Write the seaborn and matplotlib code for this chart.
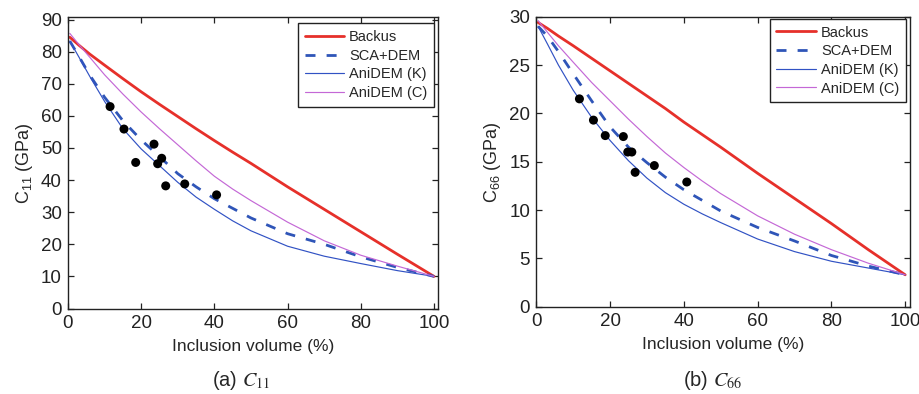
import matplotlib
matplotlib.use("Agg")
import matplotlib.pyplot as plt
import pandas as pd
import seaborn as sns

# ---------------- data ----------------
volume = [0.5, 3, 6, 10, 15, 20, 25, 30, 35, 40, 45, 50, 60, 70, 80, 90, 100]

c11_backus = [84.5, 82.0, 79.2, 75.8, 71.6, 67.5, 63.6, 59.8, 56.0, 52.3, 48.7, 45.2, 37.9, 30.9, 23.9, 16.9, 10.0]
c11_scadem = [83.3, 78.5, 72.6, 65.8, 58.5, 52.5, 47.3, 42.0, 37.9, 34.2, 31.2, 28.2, 23.3, 20.0, 16.1, 12.8, 10.0]
c11_anidem_k = [83.3, 78.3, 72.2, 64.5, 56.0, 49.7, 44.5, 39.3, 34.7, 30.9, 27.3, 24.2, 19.4, 16.3, 14.0, 11.8, 10.0]
c11_anidem_c = [85.7, 82.2, 78.2, 72.8, 66.8, 61.2, 56.0, 51.0, 46.0, 41.2, 37.2, 33.6, 26.9, 21.1, 16.6, 13.2, 10.0]

c66_backus = [29.4, 28.8, 28.0, 27.0, 25.7, 24.4, 23.1, 21.8, 20.5, 19.1, 17.8, 16.5, 13.8, 11.2, 8.6, 5.9, 3.3]
c66_scadem = [29.0, 28.0, 26.4, 24.1, 21.3, 18.6, 16.5, 14.9, 13.4, 12.1, 11.0, 9.9, 8.2, 6.8, 5.3, 4.2, 3.3]
c66_anidem_k = [29.0, 27.2, 25.0, 22.4, 19.6, 17.2, 15.1, 13.3, 11.8, 10.6, 9.6, 8.7, 7.0, 5.7, 4.7, 4.0, 3.3]
c66_anidem_c = [29.6, 28.4, 27.0, 25.3, 23.2, 21.3, 19.4, 17.6, 15.9, 14.4, 13.0, 11.7, 9.4, 7.5, 5.9, 4.5, 3.3]

pts_x_c11 = [11.5, 15.3, 18.5, 23.5, 24.5, 25.6, 26.7, 31.9, 40.6]
pts_c11 = [62.9, 55.9, 45.5, 51.2, 45.1, 46.8, 38.2, 38.8, 35.4]
pts_x_c66 = [11.7, 15.5, 18.7, 23.6, 24.8, 25.9, 26.8, 32.0, 40.8]
pts_c66 = [21.5, 19.3, 17.7, 17.6, 16.0, 16.0, 13.9, 14.6, 12.9]

models = ["Backus", "SCA+DEM", "AniDEM (K)", "AniDEM (C)"]
x_ticks = [0, 20, 40, 60, 80, 100]
c11_ticks = [0, 10, 20, 30, 40, 50, 60, 70, 80, 90]
c66_ticks = [0, 5, 10, 15, 20, 25, 30]

# ---------------- style ----------------
sns.set_theme(style="ticks")
plt.rcParams["font.family"] = ["Liberation Sans", "DejaVu Sans"]
plt.rcParams["mathtext.fontset"] = "stix"
plt.rcParams["axes.edgecolor"] = "#222222"
plt.rcParams["axes.linewidth"] = 1.0

styles = {
    "Backus": dict(color="#e6302a", lw=2.0, ls="-"),
    "SCA+DEM": dict(color="#2f55b8", lw=2.0, ls=(0, (3.6, 4.0))),
    "AniDEM (K)": dict(color="#3152c4", lw=0.85, ls="-"),
    "AniDEM (C)": dict(color="#c468d6", lw=0.85, ls="-"),
}

fig = plt.figure(figsize=(9.2, 3.94), dpi=100)
ax1 = fig.add_axes([0.0739, 0.217, 0.4022, 0.739])
ax2 = fig.add_axes([0.5829, 0.2216, 0.4062, 0.736])


def draw(ax, series, px, py, yticks, ylim, xlim, ylabel, leg_anchor):
    rows = []
    for m, vals in zip(models, series):
        for v, c in zip(volume, vals):
            rows.append({"volume": v, "value": c, "model": m})
    df = pd.DataFrame(rows)
    for m in models:
        st = styles[m]
        sns.lineplot(data=df[df["model"] == m], x="volume", y="value", ax=ax,
                     color=st["color"], linewidth=st["lw"], linestyle=st["ls"],
                     label=m, estimator=None, sort=False)
    sns.scatterplot(x=px, y=py, ax=ax, color="black", s=42, edgecolor="none",
                    legend=False, zorder=5)
    ax.set_xlim(*xlim)
    ax.set_ylim(*ylim)
    ax.set_xticks(x_ticks)
    ax.set_yticks(yticks)
    ax.tick_params(direction="in", length=4, width=0.9, top=True, right=True,
                   labelsize=13.5, pad=4.5, colors="#222222")
    ax.set_xlabel("Inclusion volume (%)", fontsize=12.5, labelpad=5)
    ax.set_ylabel(ylabel, fontsize=13, labelpad=4)
    for s in ax.spines.values():
        s.set_visible(True)
        s.set_color("#222222")
    handles = ax.get_lines()[:4]
    leg = ax.legend(handles, models, loc="upper right", bbox_to_anchor=leg_anchor,
                    borderaxespad=0, fontsize=10.5, frameon=True, fancybox=False,
                    edgecolor="#222222", framealpha=1, handlelength=2.7,
                    handletextpad=0.35, labelspacing=0.32, borderpad=0.45)
    leg.get_frame().set_linewidth(1.0)


draw(ax1, [c11_backus, c11_scadem, c11_anidem_k, c11_anidem_c], pts_x_c11, pts_c11,
     c11_ticks, (0, 90.7), (0, 101.1), r"$\mathregular{C_{11}}$ (GPa)", (0.989, 0.979))
draw(ax2, [c66_backus, c66_scadem, c66_anidem_k, c66_anidem_c], pts_x_c66, pts_c66,
     c66_ticks, (0, 30), (0, 101.3), r"$\mathregular{C_{66}}$ (GPa)", (0.9885, 0.992))

fig.text(241 / 920, 1 - 380 / 394, r"(a) $C_{11}$", ha="center", va="center", fontsize=14.5)
fig.text(713 / 920, 1 - 380 / 394, r"(b) $C_{66}$", ha="center", va="center", fontsize=14.5)

fig.savefig("out.png", dpi=100)
